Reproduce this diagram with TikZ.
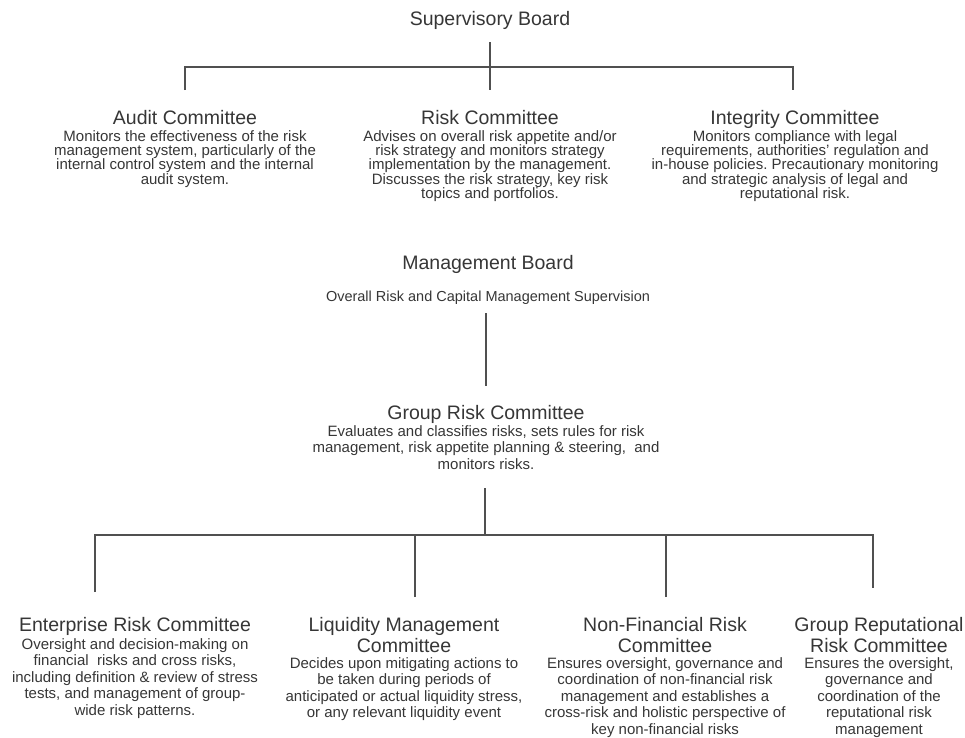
\documentclass[tikz,border=0pt]{standalone}
\usepackage{fontspec}
\setmainfont{Liberation Sans}
\frenchspacing
\definecolor{inkgray}{HTML}{363636}
\definecolor{wiregray}{HTML}{505050}
\newcommand\headsize{\fontsize{19.5}{21}\selectfont}
\newcommand\topdescsize{\fontsize{15}{14.4}\selectfont}
\newcommand\descsize{\fontsize{15}{16.5}\selectfont}
\newcommand\subsize{\fontsize{14.5}{16}\selectfont}
\begin{document}
\begin{tikzpicture}[x=1pt,y=1pt]
    \tikzstyle{every node}+=[inner sep=0pt, text=inkgray]
    \tikzstyle{head}=[font=\headsize, align=center]
    \tikzstyle{topdesc}=[font=\topdescsize, align=center, anchor=north]
    \tikzstyle{desc}=[font=\descsize, align=center, anchor=north]
    \tikzstyle{wire}=[draw=wiregray, line width=1.1pt]
    \useasboundingbox (0,0) rectangle (965,-737);
    \node [head, anchor=base] (sup) at (490,-25) {Supervisory Board};
    \node [head, anchor=base] (audit) at (185,-124) {Audit Committee};
    \node [head, anchor=base] (risk) at (490,-124) {Risk Committee};
    \node [head, anchor=base] (integ) at (795,-124) {Integrity Committee};
    \node [topdesc] (auditdesc) at (185,-130) {Monitors the effectiveness of the risk\\management system, particularly of the\\internal control system and the internal\\audit system.};
    \node [topdesc] (riskdesc) at (490,-130) {Advises on overall risk appetite and/or\\risk strategy and monitors strategy\\implementation by the management.\\Discusses the risk strategy, key risk\\topics and portfolios.};
    \node [topdesc] (integdesc) at (795,-130) {Monitors compliance with legal\\requirements, authorities' regulation and\\in-house policies. Precautionary monitoring\\and strategic analysis of legal and\\reputational risk.};
    \node [head, anchor=base] (mgmt) at (488,-269) {Management Board};
    \node [font=\subsize, anchor=base] (mgmtsub) at (488,-301) {Overall Risk and Capital Management Supervision};
    \node [head, anchor=base] (grc) at (486,-419) {Group Risk Committee};
    \node [desc] (grcdesc) at (486,-425) {Evaluates and classifies risks, sets rules for risk\\management, risk appetite planning \& steering,\ \ and\\monitors risks.};
    \node [head, anchor=north] (ent) at (135,-617) {Enterprise Risk Committee};
    \node [head, anchor=north] (liq) at (404,-617) {Liquidity Management\\Committee};
    \node [head, anchor=north] (nonfin) at (665,-617) {Non-Financial Risk\\Committee};
    \node [head, anchor=north] (grep) at (879,-617) {Group Reputational\\Risk Committee};
    \node [desc] (entdesc) at (135,-638) {Oversight and decision-making on\\financial\ \ risks and cross risks,\\including definition \& review of stress\\tests, and management of group-\\wide risk patterns.};
    \node [desc] (liqdesc) at (404,-657) {Decides upon mitigating actions to\\be taken during periods of\\anticipated or actual liquidity stress,\\or any relevant liquidity event};
    \node [desc] (nonfindesc) at (665,-657) {Ensures oversight, governance and\\coordination of non-financial risk\\management and establishes a\\cross-risk and holistic perspective of\\key non-financial risks};
    \node [desc] (grepdesc) at (879,-657) {Ensures the oversight,\\governance and\\coordination of the\\reputational risk\\management};
    \coordinate (supstem) at (490,-42);
    \coordinate (supbus) at (490,-67);
    \coordinate (auditdrop) at (185,-90);
    \coordinate (riskdrop) at (490,-90);
    \coordinate (integdrop) at (793,-90);
    \coordinate (mgmtstem) at (486,-313);
    \coordinate (grcdrop) at (486,-386);
    \coordinate (grcstem) at (485,-488);
    \coordinate (grcbus) at (485,-535);
    \coordinate (entdrop) at (95,-592);
    \coordinate (liqdrop) at (415,-597);
    \coordinate (nonfindrop) at (666,-597);
    \coordinate (grepdrop) at (873,-588);
    \draw [wire] (supstem) -- (riskdrop);
    \draw [wire] (auditdrop) |- (supbus) -| (integdrop);
    \draw [wire] (mgmtstem) -- (grcdrop);
    \draw [wire] (grcstem) -- (grcbus);
    \draw [wire] (entdrop) |- (grcbus) -| (grepdrop);
    \draw [wire] (liqdrop) -- (liqdrop |- grcbus);
    \draw [wire] (nonfindrop) -- (nonfindrop |- grcbus);
\end{tikzpicture}
\end{document}
